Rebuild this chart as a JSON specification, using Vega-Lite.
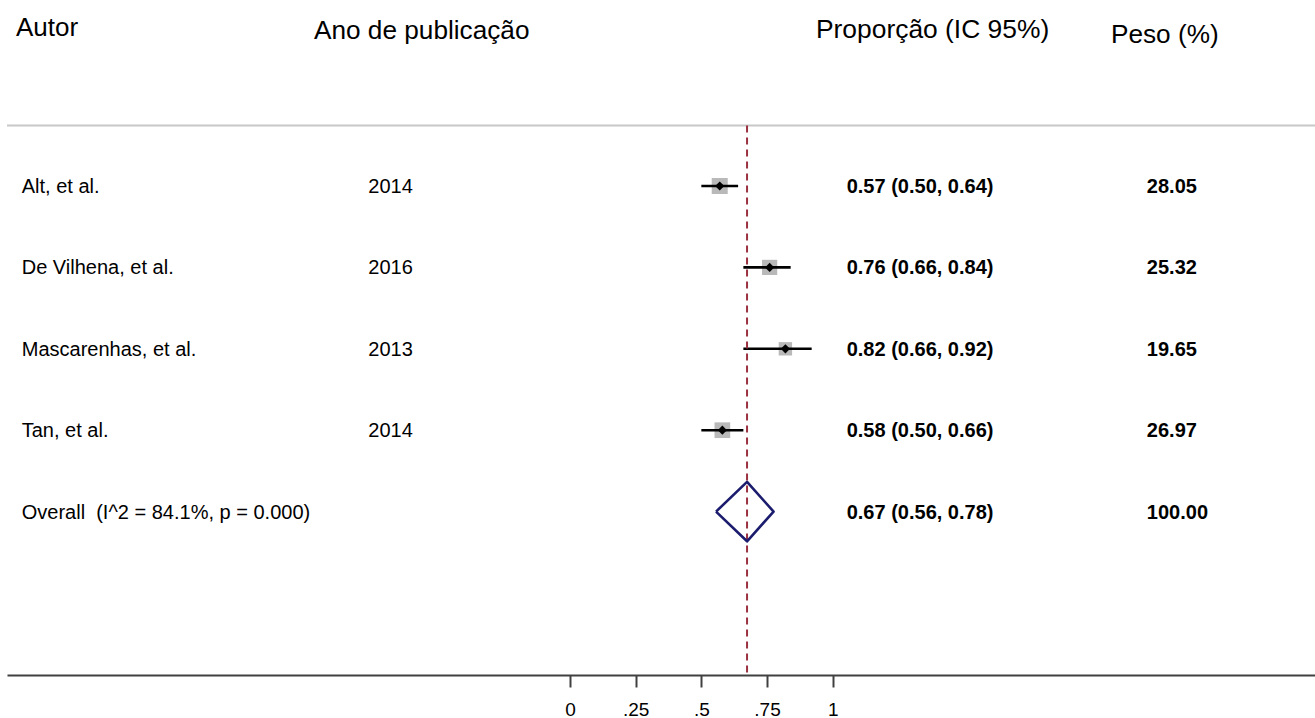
{
  "$schema": "https://vega.github.io/schema/vega-lite/v6.json",
  "autosize": "none",
  "padding": {"left": 7, "top": 0, "right": 0, "bottom": 43},
  "width": 1308,
  "height": 675,
  "background": "white",
  "data": {"values": [{}]},
  "config": {
    "view": {"stroke": null},
    "font": "Liberation Sans",
    "text": {"font": "Liberation Sans", "color": "#000000"}
  },
  "resolve": {"axis": {"x": "independent", "y": "independent"}},
  "datasets": {
    "rows": [
      {"row": 1, "study": "Alt, et al.", "year": "2014", "es": 0.57, "lci": 0.50, "uci": 0.64, "ci": "0.57 (0.50, 0.64)", "weight": 28.05, "kind": "study"},
      {"row": 2, "study": "De Vilhena, et al.", "year": "2016", "es": 0.76, "lci": 0.66, "uci": 0.84, "ci": "0.76 (0.66, 0.84)", "weight": 25.32, "kind": "study"},
      {"row": 3, "study": "Mascarenhas, et al.", "year": "2013", "es": 0.82, "lci": 0.66, "uci": 0.92, "ci": "0.82 (0.66, 0.92)", "weight": 19.65, "kind": "study"},
      {"row": 4, "study": "Tan, et al.", "year": "2014", "es": 0.58, "lci": 0.50, "uci": 0.66, "ci": "0.58 (0.50, 0.66)", "weight": 26.97, "kind": "study"},
      {"row": 5, "study": "Overall \u00a0(I^2 = 84.1%, p = 0.000)", "year": null, "es": 0.674, "lci": 0.556, "uci": 0.775, "ci": "0.67 (0.56, 0.78)", "weight": 100.00, "kind": "overall"}
    ],
    "diamond": [
      {"v": 1, "x": 0.556, "row": 5},
      {"v": 2, "x": 0.674, "row": 4.635},
      {"v": 3, "x": 0.775, "row": 5},
      {"v": 4, "x": 0.674, "row": 5.365},
      {"v": 5, "x": 0.556, "row": 5}
    ]
  },
  "layer": [
    {
      "mark": {"type": "rule", "color": "#c8c8c8", "strokeWidth": 2},
      "encoding": {
        "x": {"datum": -2.1431, "type": "quantitative", "scale": {"domain": [-2.1431, 2.836], "nice": false, "zero": false},
          "axis": {"values": [0, 0.25, 0.5, 0.75, 1], "title": null, "grid": false, "labelExpr": "replace(format(datum.value, '~g'), '0.', '.')",
            "domainColor": "#404040", "domainWidth": 2, "tickColor": "#404040", "tickWidth": 2, "tickSize": 12,
            "labelFontSize": 19, "labelColor": "#000000", "labelFont": "Liberation Sans", "labelPadding": 13, "labelFlush": false, "labelOverlap": false}},
        "x2": {"datum": 2.836},
        "y": {"datum": 0.2568, "type": "quantitative", "scale": {"domain": [-1.285, 7.0074], "reverse": true, "nice": false, "zero": false}, "axis": null}
      }
    },
    {
      "data": {"name": "rows"},
      "transform": [{"filter": "datum.kind == 'study'"}],
      "mark": {"type": "square", "color": "#b9b9b9", "opacity": 1},
      "encoding": {
        "x": {"field": "es", "type": "quantitative", "scale": {"domain": [-2.1431, 2.836], "nice": false, "zero": false}, "axis": null},
        "y": {"field": "row", "type": "quantitative", "scale": {"domain": [-1.285, 7.0074], "reverse": true, "nice": false, "zero": false}, "axis": null},
        "size": {"field": "weight", "type": "quantitative", "scale": {"domain": [0, 28.05], "range": [0, 256]}, "legend": null}
      }
    },
    {
      "data": {"name": "rows"},
      "transform": [{"filter": "datum.kind == 'study'"}],
      "mark": {"type": "rule", "color": "#000000", "strokeWidth": 2.6},
      "encoding": {
        "x": {"field": "lci", "type": "quantitative", "scale": {"domain": [-2.1431, 2.836], "nice": false, "zero": false}, "axis": null},
        "x2": {"field": "uci"},
        "y": {"field": "row", "type": "quantitative", "scale": {"domain": [-1.285, 7.0074], "reverse": true, "nice": false, "zero": false}, "axis": null}
      }
    },
    {
      "data": {"name": "rows"},
      "transform": [{"filter": "datum.kind == 'study'"}],
      "mark": {"type": "point", "shape": "diamond", "filled": true, "color": "#000000", "opacity": 1, "size": 85},
      "encoding": {
        "x": {"field": "es", "type": "quantitative", "scale": {"domain": [-2.1431, 2.836], "nice": false, "zero": false}, "axis": null},
        "y": {"field": "row", "type": "quantitative", "scale": {"domain": [-1.285, 7.0074], "reverse": true, "nice": false, "zero": false}, "axis": null}
      }
    },
    {
      "mark": {"type": "rule", "color": "#9a3040", "strokeWidth": 2, "strokeDash": [7, 5]},
      "encoding": {
        "x": {"datum": 0.674, "type": "quantitative", "scale": {"domain": [-2.1431, 2.836], "nice": false, "zero": false}, "axis": null},
        "y": {"datum": 0.2568, "type": "quantitative", "scale": {"domain": [-1.285, 7.0074], "reverse": true, "nice": false, "zero": false}, "axis": null},
        "y2": {"datum": 7.0074}
      }
    },
    {
      "data": {"name": "diamond"},
      "mark": {"type": "line", "color": "#1c1c6e", "strokeWidth": 2.6, "strokeJoin": "round"},
      "encoding": {
        "x": {"field": "x", "type": "quantitative", "scale": {"domain": [-2.1431, 2.836], "nice": false, "zero": false}, "axis": null},
        "y": {"field": "row", "type": "quantitative", "scale": {"domain": [-1.285, 7.0074], "reverse": true, "nice": false, "zero": false}, "axis": null},
        "order": {"field": "v", "type": "quantitative"}
      }
    },
    {
      "data": {"name": "rows"},
      "mark": {"type": "text", "align": "left", "baseline": "middle", "fontSize": 20, "dy": 1},
      "encoding": {
        "x": {"datum": -2.087, "type": "quantitative", "scale": {"domain": [-2.1431, 2.836], "nice": false, "zero": false}, "axis": null},
        "y": {"field": "row", "type": "quantitative", "scale": {"domain": [-1.285, 7.0074], "reverse": true, "nice": false, "zero": false}, "axis": null},
        "text": {"field": "study"}
      }
    },
    {
      "data": {"name": "rows"},
      "transform": [{"filter": "datum.kind == 'study'"}],
      "mark": {"type": "text", "align": "left", "baseline": "middle", "fontSize": 20, "dy": 1},
      "encoding": {
        "x": {"datum": -0.7678, "type": "quantitative", "scale": {"domain": [-2.1431, 2.836], "nice": false, "zero": false}, "axis": null},
        "y": {"field": "row", "type": "quantitative", "scale": {"domain": [-1.285, 7.0074], "reverse": true, "nice": false, "zero": false}, "axis": null},
        "text": {"field": "year"}
      }
    },
    {
      "data": {"name": "rows"},
      "mark": {"type": "text", "align": "left", "baseline": "middle", "fontSize": 20, "fontWeight": "bold", "dy": 1},
      "encoding": {
        "x": {"datum": 1.0533, "type": "quantitative", "scale": {"domain": [-2.1431, 2.836], "nice": false, "zero": false}, "axis": null},
        "y": {"field": "row", "type": "quantitative", "scale": {"domain": [-1.285, 7.0074], "reverse": true, "nice": false, "zero": false}, "axis": null},
        "text": {"field": "ci"}
      }
    },
    {
      "data": {"name": "rows"},
      "mark": {"type": "text", "align": "left", "baseline": "middle", "fontSize": 20, "fontWeight": "bold", "dy": 1},
      "encoding": {
        "x": {"datum": 2.196, "type": "quantitative", "scale": {"domain": [-2.1431, 2.836], "nice": false, "zero": false}, "axis": null},
        "y": {"field": "row", "type": "quantitative", "scale": {"domain": [-1.285, 7.0074], "reverse": true, "nice": false, "zero": false}, "axis": null},
        "text": {"field": "weight", "format": ".2f"}
      }
    },
    {
      "mark": {"type": "text", "text": "Autor", "align": "left", "baseline": "alphabetic", "fontSize": 26},
      "encoding": {
        "x": {"datum": -2.109, "type": "quantitative", "scale": {"domain": [-2.1431, 2.836], "nice": false, "zero": false}, "axis": null},
        "y": {"datum": -0.8464, "type": "quantitative", "scale": {"domain": [-1.285, 7.0074], "reverse": true, "nice": false, "zero": false}, "axis": null}
      }
    },
    {
      "mark": {"type": "text", "text": "Ano de publicação", "align": "left", "baseline": "alphabetic", "fontSize": 26.2},
      "encoding": {
        "x": {"datum": -0.9745, "type": "quantitative", "scale": {"domain": [-2.1431, 2.836], "nice": false, "zero": false}, "axis": null},
        "y": {"datum": -0.811, "type": "quantitative", "scale": {"domain": [-1.285, 7.0074], "reverse": true, "nice": false, "zero": false}, "axis": null}
      }
    },
    {
      "mark": {"type": "text", "text": "Proporção (IC 95%)", "align": "left", "baseline": "alphabetic", "fontSize": 26.4},
      "encoding": {
        "x": {"datum": 0.9364, "type": "quantitative", "scale": {"domain": [-2.1431, 2.836], "nice": false, "zero": false}, "axis": null},
        "y": {"datum": -0.8157, "type": "quantitative", "scale": {"domain": [-1.285, 7.0074], "reverse": true, "nice": false, "zero": false}, "axis": null}
      }
    },
    {
      "mark": {"type": "text", "text": "Peso (%)", "align": "left", "baseline": "alphabetic", "fontSize": 26.2},
      "encoding": {
        "x": {"datum": 2.0594, "type": "quantitative", "scale": {"domain": [-2.1431, 2.836], "nice": false, "zero": false}, "axis": null},
        "y": {"datum": -0.7604, "type": "quantitative", "scale": {"domain": [-1.285, 7.0074], "reverse": true, "nice": false, "zero": false}, "axis": null}
      }
    }
  ]
}
